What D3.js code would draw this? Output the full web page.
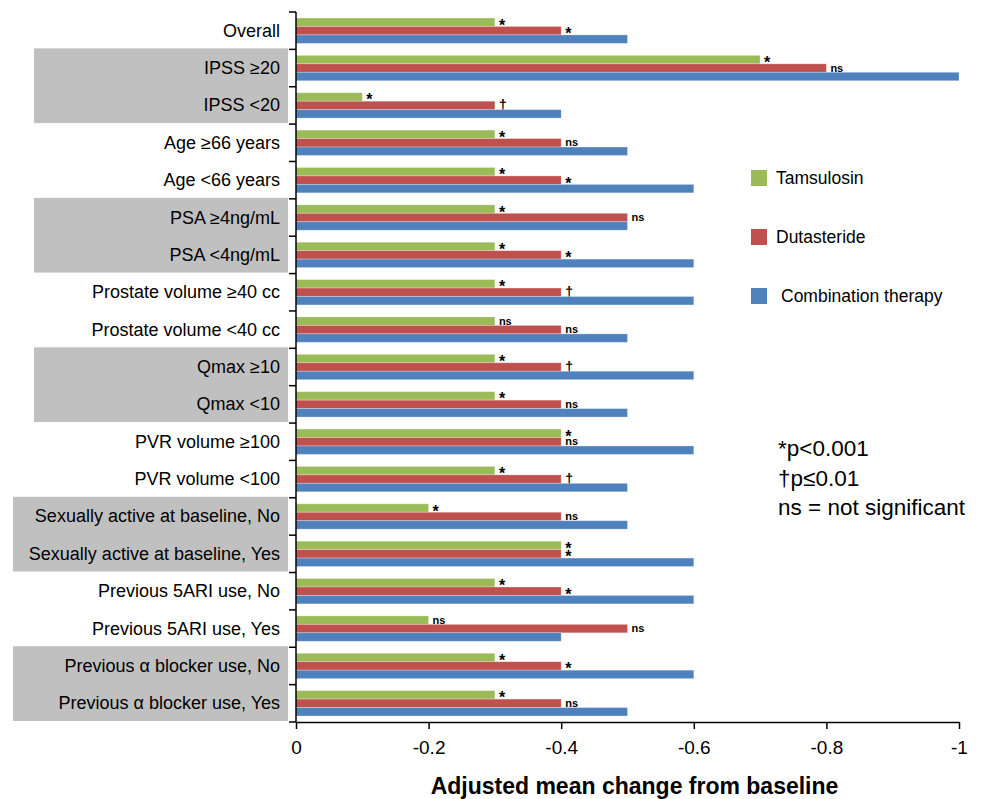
<!DOCTYPE html>
<html>
<head>
<meta charset="utf-8">
<script src="https://cdn.jsdelivr.net/npm/d3@7"></script>
<style>
  body { margin: 0; background: #fff; }
  text { font-family: "Liberation Sans", Arial, Helvetica, sans-serif; }
</style>
</head>
<body>
<div id="chart"></div>
<script>
// categories, top to bottom
const categories = [
  "Overall", "IPSS \u226520", "IPSS <20", "Age \u226566 years", "Age <66 years",
  "PSA \u22654ng/mL", "PSA <4ng/mL", "Prostate volume \u226540 cc", "Prostate volume <40 cc",
  "Qmax \u226510", "Qmax <10", "PVR volume \u2265100", "PVR volume <100",
  "Sexually active at baseline, No", "Sexually active at baseline, Yes",
  "Previous 5ARI use, No", "Previous 5ARI use, Yes",
  "Previous \u03b1 blocker use, No", "Previous \u03b1 blocker use, Yes"
];

const seriesNames = ["Tamsulosin", "Dutasteride", "Combination therapy"];
const seriesColors = ["#9bbb59", "#c0504d", "#4f81bd"];

// values
const tamsulosin  = [-0.3, -0.7, -0.1, -0.3, -0.3, -0.3, -0.3, -0.3, -0.3, -0.3, -0.3, -0.4, -0.3, -0.2, -0.4, -0.3, -0.2, -0.3, -0.3];
const dutasteride = [-0.4, -0.8, -0.3, -0.4, -0.4, -0.5, -0.4, -0.4, -0.4, -0.4, -0.4, -0.4, -0.4, -0.4, -0.4, -0.4, -0.5, -0.4, -0.4];
const combination = [-0.5, -1.0, -0.4, -0.5, -0.6, -0.5, -0.6, -0.6, -0.5, -0.6, -0.5, -0.6, -0.5, -0.5, -0.6, -0.6, -0.4, -0.6, -0.5];

// significance markers (none on combination therapy)
const tamsulosinSig  = ["*", "*", "*", "*", "*", "*", "*", "*", "ns", "*", "*", "*", "*", "*", "*", "*", "ns", "*", "*"];
const dutasterideSig = ["*", "ns", "\u2020", "ns", "*", "ns", "*", "\u2020", "ns", "\u2020", "ns", "ns", "\u2020", "ns", "*", "*", "ns", "*", "ns"];

// shaded label groups (first index, last index, wide box)
const shadeGroups = [[1, 2, false], [5, 6, false], [9, 10, false], [13, 14, true], [17, 18, true]];

const xTicks = [0, -0.2, -0.4, -0.6, -0.8, -1];
const footnotes = ["*p<0.001", "\u2020p\u22640.01", "ns = not significant"];

const width = 986, height = 799;
const x0 = 296, x1 = 959, yTop = 12, yBottom = 722;

const svg = d3.select("#chart").append("svg")
  .attr("width", width)
  .attr("height", height);

const x = d3.scaleLinear().domain([0, -1]).range([x0, x1]);
const y = d3.scaleBand().domain(d3.range(categories.length)).range([yTop, yBottom]);
const ySub = d3.scaleBand().domain(d3.range(3)).range([6, y.bandwidth() - 6]);

// gray boxes behind the labels
svg.selectAll(".shade")
  .data(shadeGroups)
  .enter().append("rect")
  .attr("x", d => d[2] ? 13 : 34)
  .attr("y", d => y(d[0]) - 1)
  .attr("width", d => 288 - (d[2] ? 13 : 34))
  .attr("height", d => y(d[1]) + y.bandwidth() - y(d[0]))
  .attr("fill", "#c0c0c0");

// bars
const series = [tamsulosin, dutasteride, combination];
const sigs = [tamsulosinSig, dutasterideSig, null];

// font size and baseline shift per marker
const markStyle = { "*": [16, 8.5], "ns": [11, 3.5], "\u2020": [14, 4.5] };

series.forEach((vals, s) => {
  svg.append("g").selectAll("rect")
    .data(vals)
    .enter().append("rect")
    .attr("x", x(0))
    .attr("y", (d, i) => y(i) + ySub(s))
    .attr("width", d => x(d) - x(0))
    .attr("height", ySub.bandwidth())
    .attr("fill", seriesColors[s])
    .attr("stroke", "#ffffff")
    .attr("stroke-opacity", 0.35)
    .attr("stroke-width", 0.8);

  if (sigs[s]) {
    svg.append("g").selectAll("text")
      .data(vals)
      .enter().append("text")
      .attr("x", d => x(d) + 4)
      .attr("y", (d, i) => y(i) + ySub(s) + ySub.bandwidth() / 2 + markStyle[sigs[s][i]][1])
      .attr("font-weight", "bold")
      .attr("font-size", (d, i) => markStyle[sigs[s][i]][0])
      .attr("fill", "#000")
      .text((d, i) => sigs[s][i]);
  }
});

// category labels
svg.append("g").selectAll("text")
  .data(categories)
  .enter().append("text")
  .attr("x", 280)
  .attr("y", (d, i) => y(i) + y.bandwidth() / 2 + 6)
  .attr("text-anchor", "end")
  .attr("font-size", 18)
  .attr("fill", "#000")
  .text(d => d);

// y axis with ticks at band boundaries
const yAxis = svg.append("g");
yAxis.append("line")
  .attr("x1", x0).attr("x2", x0)
  .attr("y1", yTop).attr("y2", yBottom)
  .attr("stroke", "#000").attr("stroke-width", 1.5);
yAxis.selectAll(".ytick")
  .data(d3.range(categories.length + 1))
  .enter().append("line")
  .attr("x1", x0 - 7).attr("x2", x0)
  .attr("y1", i => yTop + i * y.step())
  .attr("y2", i => yTop + i * y.step())
  .attr("stroke", "#000").attr("stroke-width", 1.5);

// x axis
const xAxis = svg.append("g")
  .attr("transform", `translate(0,${yBottom})`)
  .call(d3.axisBottom(x).tickValues(xTicks).tickSize(7).tickSizeOuter(0)
    .tickFormat(d => d === 0 ? "0" : d === -1 ? "-1" : "-" + d3.format(".1f")(-d)));
xAxis.select(".domain").attr("stroke", "#000").attr("stroke-width", 1.5);
xAxis.selectAll(".tick line").attr("stroke", "#000").attr("stroke-width", 1.5);
xAxis.selectAll(".tick text")
  .attr("font-size", 19)
  .attr("font-family", "'Liberation Sans', Arial, sans-serif")
  .attr("dy", "1.15em")
  .attr("fill", "#000");

svg.append("text")
  .attr("x", (x0 + x1) / 2 + 7)
  .attr("y", 794)
  .attr("text-anchor", "middle")
  .attr("font-size", 23)
  .attr("font-weight", "bold")
  .attr("fill", "#000")
  .text("Adjusted mean change from baseline");

// legend
const legend = svg.append("g").attr("transform", "translate(751,170)");
seriesNames.forEach((name, i) => {
  legend.append("rect")
    .attr("x", 0).attr("y", i * 59)
    .attr("width", 16).attr("height", 16)
    .attr("fill", seriesColors[i]);
  legend.append("text")
    .attr("x", i === 2 ? 30 : 25).attr("y", i * 59 + 14)
    .attr("font-size", 17.5)
    .attr("fill", "#000")
    .text(name);
});

// footnotes
svg.append("g").selectAll("text")
  .data(footnotes)
  .enter().append("text")
  .attr("x", 778)
  .attr("y", (d, i) => 456 + i * 29.5)
  .attr("font-size", 22.5)
  .attr("fill", "#000")
  .text(d => d);
</script>
</body>
</html>
